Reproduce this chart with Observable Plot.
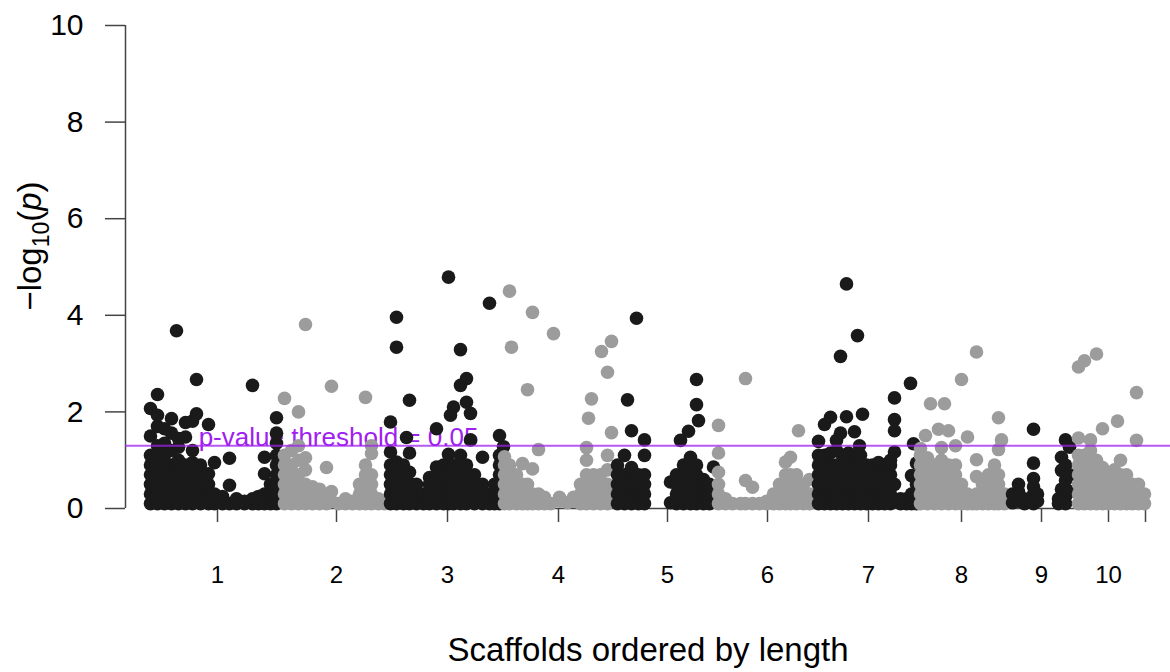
<!DOCTYPE html>
<html><head><meta charset="utf-8">
<script src="https://cdn.jsdelivr.net/npm/d3@7"></script>
<script src="https://cdn.jsdelivr.net/npm/@observablehq/plot@0.6"></script>
<style>html,body{margin:0;padding:0;background:#fff}svg{display:block}</style>
</head><body><div id="chart"></div>
<script>
// Scaffold tick labels and their centre positions along the concatenated genome
const scaffoldLabels = ["1","2","3","4","5","6","7","8","9","10"];
const scaffoldCentres = [69, 188, 299, 410, 519, 619, 720, 813, 893, 960];
const genomeEnd = 997;
const genomeStart = 0;
const threshold = 1.301; // -log10(0.05)
const thresholdLabel = "p-value threshold = 0.05";

// Each scaffold: [position, [-log10(p) values of SNPs at about that position]]
const scaffold1 = [
  [2,[0.1,0.3,0.5,0.7,0.9,1.1,1.5,2.07]],[9,[0.1,0.3,0.5,0.7,0.9,1.1,1.3,1.7,1.93,2.36]],
  [16,[0.1,0.3,0.5,0.7,0.9,1.1,1.35,1.65]],[23,[0.1,0.3,0.5,0.7,0.9,1.2,1.56,1.86]],[28,[3.68]],
  [30,[0.1,0.3,0.5,0.7,0.9,1.0,1.27,1.45]],[37,[0.1,0.3,0.5,0.7,0.9,1.48,1.78]],
  [44,[0.1,0.3,0.5,0.7,0.95,1.2,1.81]],[48,[1.96,2.67]],[52,[0.1,0.3,0.5,0.7,0.9]],
  [60,[0.1,0.3,0.5,0.72,1.74]],[66,[0.1,0.3,0.95]],[74,[0.1,0.25]],[81,[0.1,0.48,1.04]],
  [88,[0.1,0.2]],[96,[0.1,0.15]],[104,[0.1,0.2,2.55]],[110,[0.1,0.25]],[116,[0.1,0.3,0.72,1.06]],
  [122,[0.1,0.3,0.5]],[128,[0.1,0.3,0.5,0.7,0.9,1.1,1.35,1.56,1.88]]
];
const scaffold2 = [
  [136,[0.1,0.3,0.5,0.7,0.9,1.1,2.28]],[143,[0.1,0.3,0.5,0.7,0.9,1.2]],[150,[0.1,0.3,0.5,0.7,1.0,1.3,2.0]],
  [157,[0.1,0.3,0.5,0.8,1.05,3.81]],[164,[0.1,0.3,0.45]],[171,[0.1,0.25,0.4]],[178,[0.1,0.3,0.85]],
  [183,[0.15,0.35,2.53]],[190,[0.1]],[197,[0.1,0.2]],[204,[0.1,0.15]],[211,[0.1,0.3,0.5]],
  [217,[0.1,0.3,0.5,0.7,0.9,2.30]],[223,[0.1,0.3,0.5,0.7,1.14,1.3]],[230,[0.1,0.2]],[236,[0.1]]
];
const scaffold3 = [
  [242,[0.1,0.3,0.5,0.7,0.9,1.17,1.79]],[248,[0.1,0.3,0.5,0.7,0.96,3.34,3.96]],[255,[0.1,0.3,0.5,0.7,0.9]],
  [258,[1.47]],[261,[0.1,0.3,0.52,0.75,1.15,2.24]],[268,[0.1,0.3,0.5]],[275,[0.1,0.3]],
  [281,[0.1,0.3,0.5,0.64]],[288,[0.1,0.3,0.5,0.7,0.86,1.65]],[295,[0.1,0.3,0.5,0.7,0.9]],
  [300,[0.1,0.3,0.5,0.7,0.9,1.12,4.79]],[302,[1.93]],[305,[0.1,0.3,0.5,0.7,0.9,2.10]],
  [312,[0.1,0.3,0.5,0.7,0.9,1.1,2.55,3.29]],[318,[0.1,0.3,0.5,0.7,0.9,2.20,2.69]],[322,[1.42,1.97]],
  [326,[0.1,0.3,0.5,0.7]],[334,[0.1,0.3,0.5,1.06]],[341,[0.1,0.3,4.25]],[346,[0.1,0.3,0.5]],
  [351,[0.1,0.3,0.5,0.7,0.9,1.1,1.51]],[355,[1.28]]
];
const scaffold4 = [
  [356,[0.1,0.3,0.5,0.7,0.9,1.07]],[361,[0.1,0.3,0.5,0.7,0.9,4.50]],[363,[3.34]],[368,[0.1,0.3,0.5,0.7]],
  [374,[0.1,0.3,0.5,0.93]],[379,[0.1,0.3,0.5,2.46]],[384,[0.1,0.3,0.82,4.06]],[390,[0.1,0.3,1.22]],
  [396,[0.1,0.23]],[402,[0.1]],[405,[3.62]],[411,[0.15,0.23]],[419,[0.12]],[425,[0.15,0.23]],
  [432,[0.1,0.3,0.5]],[438,[0.1,0.3,0.5,0.7,1.0,1.26]],[440,[1.87]],[443,[2.27]],[445,[0.1,0.3,0.5,0.7]],
  [452,[0.1,0.3,0.5,0.7]],[453,[3.25]],[459,[0.1,0.3,0.5,0.8,1.10,2.82]],[463,[1.57,3.46]]
];
const scaffold5 = [
  [469,[0.1,0.3,0.5,0.7,0.9]],[476,[0.1,0.3,0.5,0.7,1.10]],[479,[2.25]],[483,[0.1,0.3,0.5,0.7,0.85,1.61]],
  [488,[3.94]],[490,[0.1,0.3,0.5,0.7]],[496,[0.1,0.3,0.5,0.7,1.10,1.42]],[522,[0.12,0.55]],
  [528,[0.1,0.3,0.5,0.7]],[532,[1.41]],[535,[0.1,0.3,0.5,0.7,0.9]],[540,[1.60]],
  [542,[0.1,0.3,0.5,0.7,0.9,1.06]],[548,[0.1,0.3,0.5,0.7,0.9,2.15,2.67]],[550,[1.82]],
  [555,[0.1,0.3,0.5,0.6]],[561,[0.1,0.3,0.5]],[565,[0.86]]
];
const scaffold6 = [
  [570,[0.1,0.3,0.5,0.75,1.15,1.72]],[577,[0.1,0.2]],[584,[0.1]],[592,[0.1]],[597,[0.1,0.58,2.69]],
  [604,[0.1,0.44]],[611,[0.1]],[618,[0.1,0.15]],[625,[0.1,0.3]],[631,[0.1,0.3,0.5]],
  [637,[0.1,0.3,0.5,0.7,0.96]],[642,[0.1,0.3,0.5,0.7,1.06]],[648,[0.1,0.3,0.5,0.7]],[650,[1.61]],
  [655,[0.1,0.3,0.5]],[661,[0.1,0.3,0.6]]
];
const scaffold7 = [
  [670,[0.1,0.3,0.5,0.7,0.9,1.1,1.39]],[676,[0.1,0.3,0.5,0.7,0.9,1.1,1.74]],
  [682,[0.1,0.3,0.5,0.7,0.9,1.15,1.89]],[688,[0.1,0.3,0.5,0.7,0.9,1.2,1.41]],[692,[1.56,3.15]],
  [694,[0.1,0.3,0.5,0.7,0.9,1.1]],[698,[1.90,4.65]],[700,[0.1,0.3,0.5,0.7,0.9,1.15]],
  [706,[0.1,0.3,0.5,0.7,0.9,1.1,1.59]],[709,[3.58]],[711,[1.30]],[712,[0.1,0.3,0.5,0.7,0.9,1.1]],
  [714,[1.95]],[718,[0.1,0.3,0.5,0.7,0.9]],[724,[0.1,0.3,0.5,0.7,0.9]],[730,[0.1,0.3,0.5,0.7,0.95]],
  [736,[0.1,0.3,0.5,0.7,0.9]],[742,[0.1,0.3,0.5,0.7,0.9,1.0]],[746,[0.5,1.17,1.61,1.84,2.29]],
  [752,[0.1,0.2]],[758,[0.1,0.2]],[762,[2.59]],[763,[0.1,0.3,0.68]],[765,[1.34]],[768,[0.1,0.3,0.5,0.94]]
];
const scaffold8 = [
  [772,[0.1,0.3,0.5,0.7,0.9,1.1,1.24]],[777,[1.51]],[779,[0.1,0.3,0.5,0.7,0.9,1.05]],[782,[2.17]],
  [786,[0.1,0.3,0.5,0.7,0.9]],[790,[1.64]],[793,[0.1,0.3,0.5,0.7,0.9,1.0,1.26]],[796,[2.17]],
  [800,[0.1,0.3,0.5,0.7,0.9,1.61]],[807,[0.1,0.3,0.5,0.7,0.9,1.30]],[813,[0.1,0.3,0.5,2.67]],
  [819,[0.1,0.3,1.48]],[824,[0.1,0.2]],[828,[0.1,0.3,0.66,1.01,3.24]],[834,[0.1,0.3,0.5]],
  [840,[0.1,0.3,0.5,0.7]],[846,[0.1,0.3,0.5,0.7,0.9]],[850,[0.1,0.3,0.5,0.7,1.22,1.88]],[853,[1.42]],
  [856,[0.1,0.3]]
];
const scaffold9 = [
  [864,[0.12,0.3]],[870,[0.15,0.35,0.5]],[876,[0.1,0.2]],[885,[0.1,0.3,0.45,0.62,0.94,1.64]],
  [889,[0.15,0.3]],[910,[0.1,0.2]],[913,[0.4,0.79,1.06]],[917,[0.1,0.25,0.58,0.9,1.42]],[921,[0.35,0.7,1.27]]
];
const scaffold10 = [
  [930,[0.1,0.3,0.5,0.7,0.9,1.1,1.46,2.93]],[936,[0.1,0.3,0.5,0.7,0.9,1.1,3.06]],
  [942,[0.1,0.3,0.5,0.7,0.9,1.2,1.42]],[948,[0.1,0.3,0.5,0.7,0.9,1.0,3.20]],
  [954,[0.1,0.3,0.5,0.7,0.85,1.65]],[960,[0.1,0.3,0.5,0.6]],[966,[0.1,0.3,0.5,0.8]],[969,[1.81]],
  [972,[0.1,0.3,0.5,0.7,1.0]],[978,[0.1,0.3,0.5,0.7]],[984,[0.1,0.3,0.5]],[988,[1.41,2.40]],
  [990,[0.1,0.3,0.5]],[996,[0.1,0.3]]
];

const scaffolds = [scaffold1,scaffold2,scaffold3,scaffold4,scaffold5,scaffold6,scaffold7,scaffold8,scaffold9,scaffold10];
const rows = [];
scaffolds.forEach((s, i) => s.forEach(([pos, ys]) => ys.forEach(p => rows.push({scaffold: i + 1, pos, p}))));

const font = "'Liberation Sans', Arial, Helvetica, sans-serif";
const labelAt = new Map(scaffoldCentres.map((c, i) => [c, scaffoldLabels[i]]));

const chart = Plot.plot({
  width: 1170, height: 672,
  marginLeft: 125, marginRight: 0, marginTop: 25, marginBottom: 164,
  style: {fontFamily: font, background: "#fff", color: "#000", overflow: "visible"},
  x: {domain: [-23, 1022]},
  y: {domain: [0, 10]},
  marks: [
    Plot.axisY({ticks: [0,2,4,6,8,10], tickSize: 20, tickPadding: 22, fontSize: 30, label: null, stroke: "#444", strokeWidth: 1.5}),
    Plot.axisX({ticks: [...scaffoldCentres, genomeEnd], tickFormat: d => labelAt.get(d) ?? "", tickSize: 14, tickPadding: 43, fontSize: 24, label: null, stroke: "#444", strokeWidth: 1.5}),
    Plot.ruleX([-23], {y1: 0, y2: 10, stroke: "#444", strokeWidth: 1.5}),
    Plot.ruleY([0], {x1: genomeStart, x2: genomeEnd, stroke: "#444", strokeWidth: 1.5}),
    Plot.text([{pos: 190, p: threshold, label: thresholdLabel}], {x: "pos", y: "p", text: "label", fill: "#a020f0", fontSize: 26, textAnchor: "middle", lineAnchor: "middle", dy: -8}),
    Plot.dot(rows, {x: "pos", y: "p", r: 6.8, fill: d => d.scaffold % 2 ? "#1a1a1a" : "#9c9c9c", stroke: "none"}),
    Plot.ruleY([threshold], {stroke: "#a020f0", strokeWidth: 2, strokeOpacity: 0.75}),
    Plot.text(["Scaffolds ordered by length"], {frameAnchor: "bottom", text: d => d, fontSize: 33, lineAnchor: "middle", dy: 142})
  ]
});

const svg = d3.select(chart);
const ylab = svg.append("text")
  .attr("transform", "translate(41,246) rotate(-90)")
  .attr("text-anchor", "middle")
  .attr("fill", "#000")
  .style("font-family", font)
  .style("font-size", "33px");
ylab.append("tspan").text("\u2212log");
ylab.append("tspan").attr("dy", 8).style("font-size", "23px").text("10");
ylab.append("tspan").attr("dy", -8).text("(");
ylab.append("tspan").style("font-style", "italic").text("p");
ylab.append("tspan").text(")");

document.getElementById("chart").appendChild(chart);
</script>
</body></html>
